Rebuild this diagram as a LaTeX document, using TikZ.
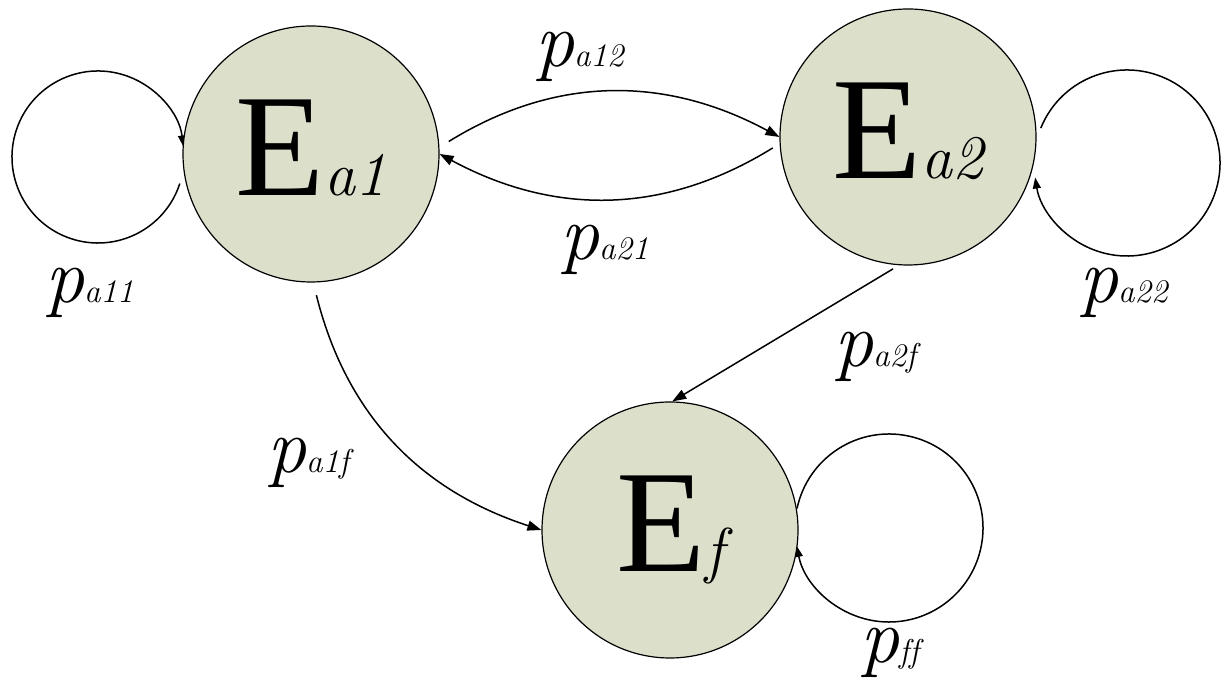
\documentclass[tikz,border=0pt]{standalone}
\usepackage{fontspec}
\newfontfamily\tnr{Liberation Serif}
\usetikzlibrary{arrows.meta,calc}
\definecolor{nodefill}{RGB}{220,224,203}
\newcommand{\bigE}[1]{{\fontsize{146}{146}\selectfont\tnr E}{\fontsize{62}{62}\selectfont\itshape #1}}
\newcommand{\plab}[1]{{\fontsize{78}{78}\selectfont\itshape p}{\fontsize{33}{33}\selectfont\itshape #1}}
\begin{document}
\begin{tikzpicture}[x=1pt,y=1pt,
  state/.style={circle, draw, fill=nodefill, line width=1.2pt, minimum size=256pt, inner sep=0pt, text depth=12pt},
  edge/.style={line width=1.5pt, -{Triangle[length=14pt,width=10pt]}},
  loopedge/.style={line width=1.5pt, -{Triangle[length=11pt,width=8pt]}},
  lab/.style={anchor=base west, inner sep=0pt}]
\useasboundingbox (0,0) rectangle (1226,684);
% loops (drawn first so the state circles sit on top)
\coordinate (c1) at (98,527);
\coordinate (c2) at (1127,521);
\coordinate (c3) at (889,156);
\draw[loopedge] ($(c1)+(-18:86)$) arc[start angle=-18, end angle=-353, radius=86pt];
\draw[loopedge] ($(c2)+(158:93)$) arc[start angle=158, end angle=-171, radius=93pt];
\draw[loopedge] ($(c3)+(168:94)$) arc[start angle=168, end angle=-169, radius=94pt];
% states
\node[state] (ea1) at (311,530) {\bigE{a1}};
\node[state] (ea2) at (908,547) {\bigE{a2}};
\node[state] (ef) at (670,154) {\bigE{f}};
% transitions
\draw[edge, shorten <=11pt] (ea1.3) to[bend left=30] (ea2.180);
\draw[edge, shorten <=8pt] (ea2.183) to[bend left=30] (ea1.0);
\draw[edge, shorten <=13pt] (ea1.271) to[out=-76,in=162] (ef.180);
\draw[edge, shorten <=7pt] (ea2.266) -- (ef.89);
% labels
\node[lab] (l11) at (45,381) {\plab{a11}};
\node[lab] (l12) at (535,617) {\plab{a12}};
\node[lab] (l21) at (560,424) {\plab{a21}};
\node[lab] (l22) at (1079,381) {\plab{a22}};
\node[lab] (l1f) at (267,211) {\plab{a1f}};
\node[lab] (l2f) at (834,317) {\plab{a2f}};
\node[lab] (lff) at (860,21) {\plab{f\kern0pt f}};
\end{tikzpicture}
\end{document}
